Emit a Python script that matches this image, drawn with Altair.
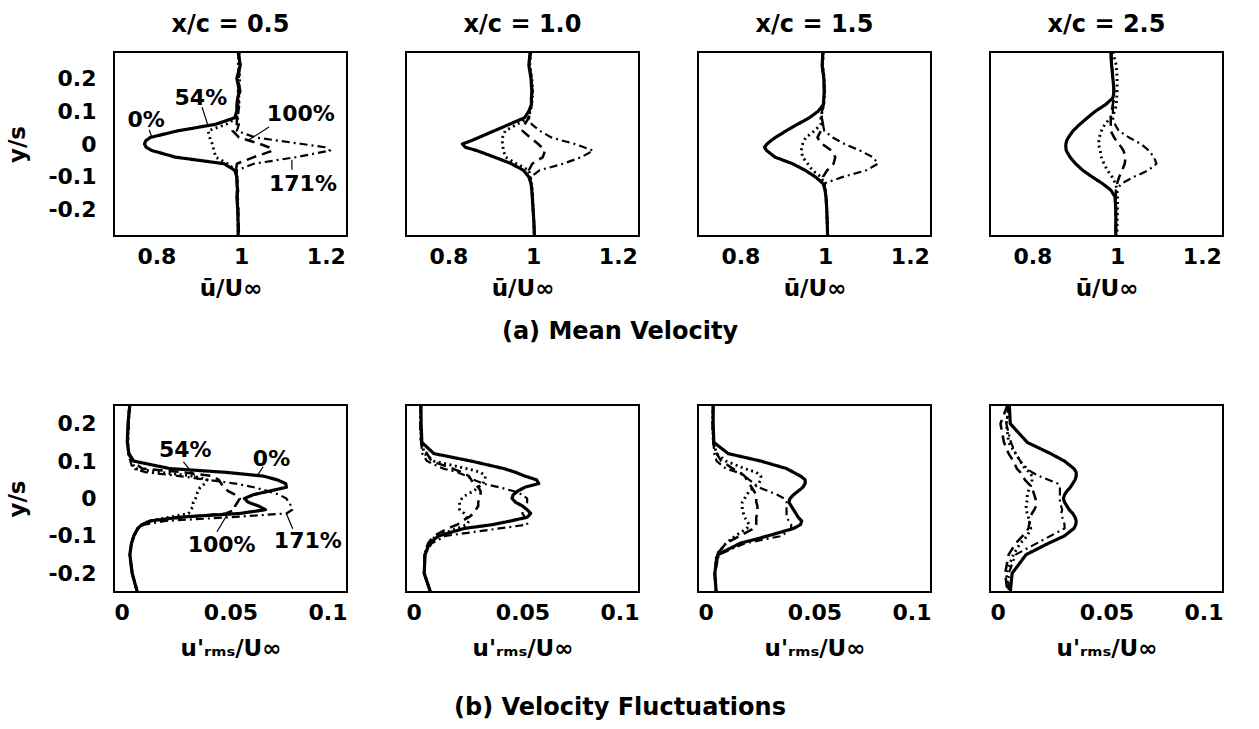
import altair as alt
import pandas as pd

FONT = "DejaVu Sans"
SERIES = ["0%", "54%", "100%", "171%"]
STATIONS = ["x/c = 0.5", "x/c = 1.0", "x/c = 1.5", "x/c = 2.5"]

# ---------------- (a) mean velocity u/U_inf, profiles vs y/s ----------------
Y_MEAN = [0.28, 0.24, 0.2, 0.16, 0.14, 0.12, 0.1, 0.08, 0.06, 0.04, 0.02, 0.01, 0.0,
          -0.01, -0.02, -0.04, -0.06, -0.08, -0.1, -0.12, -0.14, -0.16, -0.2, -0.24, -0.28]

U05_0 = [0.993, 0.998, 0.99, 0.996, 0.992, 0.99, 0.99, 0.985, 0.94, 0.85, 0.786, 0.775, 0.772,
         0.776, 0.79, 0.845, 0.96, 0.985, 0.99, 0.99, 0.992, 0.99, 0.992, 0.993, 0.993]
U05_54 = [0.996, 0.993, 0.997, 0.993, 0.995, 0.995, 0.993, 0.99, 0.965, 0.922, 0.926, 0.929, 0.932,
          0.934, 0.936, 0.94, 0.968, 0.987, 0.99, 0.992, 0.99, 0.991, 0.993, 0.992, 0.994]
U05_100 = [0.995, 0.996, 0.993, 0.998, 0.994, 0.993, 0.992, 0.99, 0.99, 0.98, 0.995, 1.02, 1.045,
           1.065, 1.075, 1.03, 0.99, 0.988, 0.99, 0.991, 0.993, 0.991, 0.993, 0.994, 0.995]
U05_171 = [0.994, 0.997, 0.995, 0.994, 0.993, 0.996, 0.994, 0.992, 0.995, 0.99, 1.033, 1.089, 1.144,
           1.198, 1.21, 1.13, 1.03, 0.99, 0.99, 0.992, 0.99, 0.993, 0.992, 0.993, 0.994]

U10_0 = [0.993, 0.99, 0.995, 0.997, 0.996, 0.996, 0.99, 0.98, 0.944, 0.908, 0.872, 0.854, 0.833,
         0.84, 0.867, 0.909, 0.949, 0.977, 0.99, 0.995, 0.997, 0.998, 1.0, 1.002, 1.003]
U10_54 = [0.995, 0.992, 0.997, 0.999, 0.998, 0.997, 0.993, 0.99, 0.962, 0.934, 0.928, 0.927, 0.928,
          0.929, 0.93, 0.935, 0.961, 0.99, 0.993, 0.996, 0.998, 0.999, 1.0, 1.002, 1.003]
U10_100 = [0.994, 0.991, 0.996, 0.998, 0.997, 0.996, 0.992, 0.99, 0.98, 0.975, 0.993, 1.003, 1.012,
           1.02, 1.028, 1.023, 0.998, 0.99, 0.992, 0.995, 0.997, 0.998, 1.0, 1.002, 1.003]
U10_171 = [0.994, 0.991, 0.996, 0.998, 0.997, 0.996, 0.992, 0.99, 0.997, 1.016, 1.043, 1.07, 1.099,
           1.12, 1.142, 1.114, 1.071, 1.015, 0.995, 0.995, 0.997, 0.998, 1.0, 1.002, 1.003]

U15_0 = [0.995, 0.993, 0.997, 0.998, 0.997, 0.996, 0.984, 0.963, 0.935, 0.908, 0.883, 0.872, 0.863,
         0.857, 0.862, 0.882, 0.923, 0.953, 0.977, 0.995, 1.0, 1.002, 1.004, 1.005, 1.006]
U15_54 = [0.996, 0.994, 0.998, 0.999, 0.998, 0.997, 0.993, 0.99, 0.99, 0.975, 0.955, 0.95, 0.947,
          0.945, 0.944, 0.947, 0.959, 0.97, 0.99, 0.998, 1.0, 1.002, 1.004, 1.005, 1.006]
U15_100 = [0.995, 0.993, 0.997, 0.998, 0.997, 0.996, 0.993, 0.992, 0.995, 0.99, 0.982, 0.987, 0.993,
           1.004, 1.015, 1.024, 1.02, 1.005, 0.995, 0.998, 1.0, 1.002, 1.004, 1.005, 1.006]
U15_171 = [0.995, 0.993, 0.997, 0.998, 0.997, 0.996, 0.993, 0.992, 0.995, 0.998, 1.018, 1.032, 1.046,
           1.064, 1.082, 1.113, 1.125, 1.097, 1.042, 0.998, 1.0, 1.002, 1.004, 1.005, 1.006]

U25_0 = [0.985, 0.987, 0.99, 0.993, 0.99, 0.973, 0.949, 0.93, 0.912, 0.896, 0.885, 0.881, 0.879,
         0.879, 0.88, 0.889, 0.902, 0.919, 0.941, 0.965, 0.985, 0.995, 0.997, 0.997, 0.997]
U25_54 = [0.99, 0.998, 1.0, 1.0, 0.999, 0.998, 0.995, 0.985, 0.971, 0.963, 0.958, 0.957, 0.957,
          0.958, 0.96, 0.963, 0.969, 0.977, 0.988, 0.996, 1.0, 1.001, 1.001, 1.0, 1.0]
U25_100 = [0.986, 0.988, 0.99, 0.992, 0.992, 0.99, 0.987, 0.985, 0.985, 0.985, 0.993, 0.998, 1.004,
           1.01, 1.015, 1.02, 1.018, 1.012, 1.005, 1.0, 0.997, 0.997, 0.997, 0.997, 0.997]
U25_171 = [0.986, 0.988, 0.99, 0.992, 0.992, 0.991, 0.99, 0.99, 0.995, 1.004, 1.028, 1.042, 1.056,
           1.066, 1.075, 1.087, 1.093, 1.074, 1.04, 1.011, 0.998, 0.997, 0.997, 0.997, 0.997]

# ---------------- (b) velocity fluctuations u'rms/U_inf ----------------
Y_RMS = [0.25, 0.2, 0.15, 0.12, 0.1, 0.08, 0.07, 0.06, 0.05, 0.04, 0.03, 0.02, 0.01, 0.0,
         -0.01, -0.02, -0.03, -0.04, -0.05, -0.06, -0.07, -0.08, -0.1, -0.12, -0.15, -0.2, -0.25]

R05_0 = [0.0068, 0.006, 0.0057, 0.0064, 0.0085, 0.024, 0.048, 0.064, 0.07, 0.0737, 0.074, 0.0668, 0.0597, 0.056,
         0.0576, 0.062, 0.065, 0.054, 0.028, 0.0156, 0.012, 0.0102, 0.0085, 0.0075, 0.0068, 0.0078, 0.01]
R05_54 = [0.0066, 0.0062, 0.0059, 0.0062, 0.0075, 0.009, 0.02, 0.034, 0.04, 0.039, 0.037, 0.036, 0.0355, 0.035,
          0.034, 0.034, 0.033, 0.032, 0.024, 0.015, 0.012, 0.0102, 0.0085, 0.0075, 0.0068, 0.0078, 0.01]
R05_100 = [0.0066, 0.0062, 0.0059, 0.0062, 0.008, 0.012, 0.03, 0.042, 0.045, 0.046, 0.047, 0.049, 0.052, 0.054,
           0.053, 0.052, 0.052, 0.048, 0.03, 0.016, 0.012, 0.0102, 0.0085, 0.0075, 0.0068, 0.0078, 0.01]
R05_171 = [0.0066, 0.0062, 0.0059, 0.0062, 0.007, 0.008, 0.014, 0.028, 0.04, 0.052, 0.06, 0.066, 0.071, 0.074,
           0.075, 0.076, 0.0765, 0.074, 0.05, 0.022, 0.013, 0.0105, 0.0085, 0.0075, 0.0068, 0.0078, 0.01]

R10_0 = [0.0064, 0.0065, 0.0068, 0.012, 0.028, 0.042, 0.047, 0.051, 0.056, 0.057, 0.051, 0.048, 0.046, 0.0455,
         0.047, 0.05, 0.052, 0.0535, 0.052, 0.045, 0.037, 0.025, 0.014, 0.01, 0.0082, 0.0078, 0.0105]
R10_54 = [0.0064, 0.0062, 0.0065, 0.008, 0.012, 0.026, 0.032, 0.034, 0.034, 0.033, 0.031, 0.029, 0.026, 0.024,
          0.023, 0.023, 0.023, 0.025, 0.026, 0.027, 0.026, 0.022, 0.013, 0.0095, 0.008, 0.0078, 0.0105]
R10_100 = [0.0064, 0.0062, 0.0065, 0.009, 0.011, 0.02, 0.024, 0.027, 0.028, 0.029, 0.031, 0.032, 0.032, 0.0315,
           0.031, 0.031, 0.03, 0.029, 0.027, 0.024, 0.022, 0.018, 0.012, 0.0095, 0.008, 0.0078, 0.0105]
R10_171 = [0.0064, 0.0062, 0.0065, 0.007, 0.009, 0.016, 0.022, 0.026, 0.029, 0.033, 0.04, 0.046, 0.05, 0.052,
           0.052, 0.051, 0.05, 0.05, 0.051, 0.052, 0.052, 0.04, 0.017, 0.011, 0.0082, 0.0078, 0.0105]

R15_0 = [0.0065, 0.0065, 0.0068, 0.013, 0.027, 0.038, 0.041, 0.044, 0.046, 0.046, 0.045, 0.043, 0.041, 0.0395,
         0.039, 0.04, 0.041, 0.042, 0.043, 0.0445, 0.044, 0.041, 0.03, 0.018, 0.0085, 0.0072, 0.0078]
R15_54 = [0.0065, 0.0063, 0.0066, 0.008, 0.012, 0.02, 0.025, 0.027, 0.027, 0.026, 0.024, 0.022, 0.021, 0.02,
          0.019, 0.019, 0.019, 0.0195, 0.02, 0.021, 0.022, 0.021, 0.016, 0.012, 0.008, 0.0072, 0.0078]
R15_100 = [0.0065, 0.0063, 0.0066, 0.008, 0.01, 0.015, 0.018, 0.02, 0.021, 0.022, 0.023, 0.024, 0.025, 0.025,
           0.025, 0.0255, 0.0255, 0.0255, 0.025, 0.025, 0.025, 0.024, 0.018, 0.012, 0.008, 0.0072, 0.0078]
R15_171 = [0.0065, 0.0063, 0.0066, 0.007, 0.008, 0.012, 0.017, 0.02, 0.022, 0.024, 0.026, 0.03, 0.034, 0.037,
           0.038, 0.038, 0.038, 0.038, 0.038, 0.039, 0.04, 0.04, 0.036, 0.02, 0.009, 0.0072, 0.0078]

R25_0 = [0.0083, 0.0087, 0.016, 0.026, 0.032, 0.036, 0.037, 0.037, 0.0365, 0.0355, 0.0345, 0.033, 0.032, 0.0315,
         0.032, 0.033, 0.034, 0.0355, 0.0365, 0.037, 0.0368, 0.036, 0.032, 0.025, 0.0155, 0.0095, 0.0087]
R25_54 = [0.0083, 0.007, 0.008, 0.011, 0.013, 0.015, 0.017, 0.018, 0.018, 0.018, 0.017, 0.0165, 0.016, 0.016,
          0.0158, 0.0155, 0.0155, 0.016, 0.0165, 0.017, 0.017, 0.0175, 0.016, 0.013, 0.01, 0.007, 0.008]
R25_100 = [0.0075, 0.0045, 0.006, 0.008, 0.01, 0.0115, 0.013, 0.014, 0.015, 0.0165, 0.018, 0.0185, 0.019, 0.0195,
           0.0198, 0.0198, 0.019, 0.018, 0.0175, 0.017, 0.0168, 0.0165, 0.014, 0.011, 0.008, 0.0065, 0.0075]
R25_171 = [0.008, 0.007, 0.009, 0.011, 0.013, 0.016, 0.018, 0.021, 0.025, 0.029, 0.03, 0.03, 0.03, 0.03,
           0.03, 0.0305, 0.031, 0.0305, 0.031, 0.0315, 0.032, 0.032, 0.026, 0.02, 0.011, 0.008, 0.008]

# ---------------- annotations (first panel of each row) ----------------
ANN_LABELS = ["0%", "54%", "100%", "171%"]
ANN_MEAN_X = [0.776, 0.905, 1.141, 1.146]
ANN_MEAN_Y = [0.073, 0.14, 0.091, -0.123]
LEAD_MEAN_X1 = [0.783, 0.908, 1.066, 1.12]
LEAD_MEAN_Y1 = [0.043, 0.112, 0.052, -0.048]
LEAD_MEAN_X2 = [0.79, 0.922, 1.019, 1.12]
LEAD_MEAN_Y2 = [0.019, 0.055, 0.013, -0.078]

ANN_RMS_X = [0.0676, 0.0306, 0.0462, 0.0832]
ANN_RMS_Y = [0.106, 0.13, -0.123, -0.113]
LEAD_RMS_X1 = [0.064, 0.0298, 0.0442, 0.0767]
LEAD_RMS_Y1 = [0.085, 0.098, -0.089, -0.081]
LEAD_RMS_X2 = [0.0617, 0.036, 0.0485, 0.074]
LEAD_RMS_Y2 = [0.063, 0.05, -0.044, -0.041]

MEAN_TICKS_X = [0.8, 1.0, 1.2]
RMS_TICKS_X = [0, 0.05, 0.1]
MEAN_TICKS_Y = [0.2, 0.1, 0, -0.1, -0.2]
RMS_TICKS_Y = [0.2, 0.1, 0, -0.1, -0.2]

MEAN = {STATIONS[0]: [U05_0, U05_54, U05_100, U05_171],
        STATIONS[1]: [U10_0, U10_54, U10_100, U10_171],
        STATIONS[2]: [U15_0, U15_54, U15_100, U15_171],
        STATIONS[3]: [U25_0, U25_54, U25_100, U25_171]}
RMS = {STATIONS[0]: [R05_0, R05_54, R05_100, R05_171],
       STATIONS[1]: [R10_0, R10_54, R10_100, R10_171],
       STATIONS[2]: [R15_0, R15_54, R15_100, R15_171],
       STATIONS[3]: [R25_0, R25_54, R25_100, R25_171]}


def table(ygrid, data):
    rows = []
    for st, lists in data.items():
        for s, vals in zip(SERIES, lists):
            assert len(vals) == len(ygrid), (st, s, len(vals))
            for i, (y, v) in enumerate(zip(ygrid, vals)):
                rows.append({"station": st, "series": s, "y": y, "v": v, "i": i})
    return pd.DataFrame(rows)


mean_df = table(Y_MEAN, MEAN)
rms_df = table(Y_RMS, RMS)

DASH = alt.Scale(domain=SERIES, range=[[1, 0], [2, 3.5], [10, 6], [8, 4, 2, 4]])
WID = alt.Scale(domain=SERIES, range=[3.2, 2.2, 3.0, 2.2])

TXT = dict(font=FONT, fontSize=22, fontWeight="bold", color="black")

W = 233


def panel(df, st, k, xdom, xticks, xtitle, tpad, ydom, yticks, h, title,
          ann=None, caption=None):
    d = df[df.station == st]
    xaxis = alt.Axis(values=xticks, labelExpr="'' + datum.value", title=xtitle,
                     labelPadding=10, titlePadding=tpad)
    if k == 0:
        yaxis = alt.Axis(values=yticks, labelExpr="'' + datum.value", title="y/s",
                         labelPadding=18, titlePadding=18)
    else:
        yaxis = None
    xs = alt.Scale(domain=xdom, nice=False, zero=False)
    ys = alt.Scale(domain=ydom, nice=False, zero=False)
    layers = [
        alt.Chart(d).mark_line(color="black", strokeCap="butt", strokeJoin="round").encode(
            x=alt.X("v:Q", scale=xs, axis=xaxis),
            y=alt.Y("y:Q", scale=ys, axis=yaxis),
            order=alt.Order("i:Q"),
            strokeDash=alt.StrokeDash("series:N", scale=DASH, legend=None),
            strokeWidth=alt.StrokeWidth("series:N", scale=WID, legend=None),
        )
    ]
    if ann is not None:
        lx, ly, x1, y1, x2, y2 = ann
        tdf = pd.DataFrame({"t": ANN_LABELS, "v": lx, "y": ly})
        ldf = pd.DataFrame({"v": x1, "y": y1, "v2": x2, "y2": y2})
        layers.append(alt.Chart(ldf).mark_rule(color="black", strokeWidth=1.2).encode(
            x=alt.X("v:Q", scale=xs, axis=xaxis), x2="v2:Q",
            y=alt.Y("y:Q", scale=ys, axis=yaxis), y2="y2:Q"))
        layers.append(alt.Chart(tdf).mark_text(align="center", baseline="middle", **TXT).encode(
            x=alt.X("v:Q", scale=xs, axis=xaxis),
            y=alt.Y("y:Q", scale=ys, axis=yaxis),
            text="t:N"))
    if caption is not None:
        text, cx, cy = caption
        cdf = pd.DataFrame({"c": [text]})
        layers.append(alt.Chart(cdf).mark_text(align="center", baseline="middle",
                                               font=FONT, fontSize=24, fontWeight="bold",
                                               color="black").encode(
            text="c:N", x=alt.value(cx), y=alt.value(cy)))
    ch = alt.layer(*layers).properties(width=W, height=h)
    if title:
        ch = ch.properties(title=alt.TitleParams(title, font=FONT, fontSize=24,
                                                 fontWeight="bold", color="black",
                                                 anchor="middle", offset=13))
    return ch


tops = []
bots = []
for k, st in enumerate(STATIONS):
    tops.append(panel(
        mean_df, st, k, [0.7, 1.25], MEAN_TICKS_X, "ū/U∞", 10, [-0.28, 0.28], MEAN_TICKS_Y, 184, st,
        ann=(ANN_MEAN_X, ANN_MEAN_Y, LEAD_MEAN_X1, LEAD_MEAN_Y1, LEAD_MEAN_X2, LEAD_MEAN_Y2) if k == 0 else None,
        caption=("(a) Mean Velocity", 214, 280) if k == 1 else None))
    bots.append(panel(
        rms_df, st, k, [0, 0.1], RMS_TICKS_X, "u'ᵣₘₛ/U∞", 14, [-0.25, 0.25], RMS_TICKS_Y, 187, None,
        ann=(ANN_RMS_X, ANN_RMS_Y, LEAD_RMS_X1, LEAD_RMS_Y1, LEAD_RMS_X2, LEAD_RMS_Y2) if k == 0 else None,
        caption=("(b) Velocity Fluctuations", 214, 303) if k == 1 else None))

chart = alt.concat(*(tops + bots), columns=4,
                   spacing={"row": 169, "column": 59}, bounds="flush").properties(
    padding={"left": 5, "top": 12, "right": 5, "bottom": 5},
    background="white",
).configure_view(
    stroke="black", strokeWidth=2
).configure_axis(
    domain=False, ticks=False, grid=False,
    labelFont=FONT, labelFontSize=22, labelFontWeight="bold", labelColor="black",
    titleFont=FONT, titleFontSize=23, titleFontWeight="bold", titleColor="black",
)

chart.save("out.html", embed_options={"renderer": "svg", "actions": False})
